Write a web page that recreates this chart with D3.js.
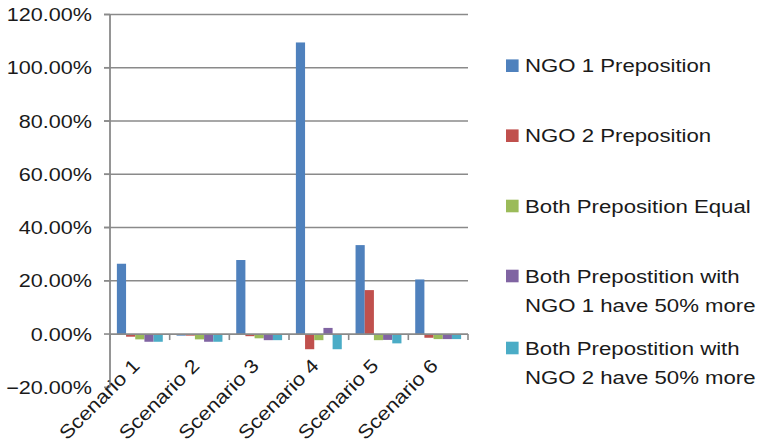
<!DOCTYPE html>
<html>
<head>
<meta charset="utf-8">
<script src="https://cdn.jsdelivr.net/npm/d3@7"></script>
<style>
  html, body { margin: 0; padding: 0; background: #fff; }
  svg { display: block; font-family: "Liberation Sans", Arial, Helvetica, sans-serif; }
</style>
</head>
<body>
<svg id="chart" width="762" height="444"></svg>
<script>
// Scenario categories
const categories = ["Scenario 1", "Scenario 2", "Scenario 3", "Scenario 4", "Scenario 5", "Scenario 6"];

// Series names and colours
const seriesNames = [
  "NGO 1 Preposition",
  "NGO 2 Preposition",
  "Both Preposition Equal",
  "Both Prepostition with NGO 1 have 50% more",
  "Both Prepostition with NGO 2 have 50% more"
];
const seriesColors = ["#4F81BD", "#C0504D", "#9BBB59", "#8064A2", "#4BACC6"];

// Values in percent, one entry per scenario
const ngo1Prep      = [26.4, -0.6, 27.8, 109.5, 33.4, 20.5];
const ngo2Prep      = [-1.0, -0.6, -0.8,  -5.7, 16.5, -1.4];
const bothEqual     = [-2.0, -2.0, -1.6,  -2.3, -2.3, -1.9];
const both50Ngo1    = [-2.9, -2.9, -2.3,   2.3, -2.2, -1.9];
const both50Ngo2    = [-2.9, -2.9, -2.3,  -5.7, -3.5, -1.9];

// Axis ticks
const yTicks = [-20, 0, 20, 40, 60, 80, 100, 120];

// Legend lines (wrapped text)
const legendLines = [
  ["NGO 1 Preposition"],
  ["NGO 2 Preposition"],
  ["Both Preposition Equal"],
  ["Both Prepostition with", "NGO 1 have 50% more"],
  ["Both Prepostition with", "NGO 2 have 50% more"]
];

const seriesValues = [ngo1Prep, ngo2Prep, bothEqual, both50Ngo1, both50Ngo2];

const svg = d3.select("#chart");
const plot = { left: 110, right: 468, top: 14.5, bottom: 387.3 };
const axisColor = "#8a8a8a";
const textColor = "#1a1a1a";
const stretch = 1.2;

const y = d3.scaleLinear().domain([-20, 120]).range([plot.bottom, plot.top]);
const x0 = d3.scaleBand().domain(categories).range([plot.left, plot.right]).padding(0);
const cw = x0.bandwidth();
const pad = cw * 0.75 / 6.5;
const x1 = d3.scaleBand().domain(d3.range(seriesNames.length)).range([pad, cw - pad]).padding(0);

// Horizontal gridlines
svg.append("g")
  .selectAll("line")
  .data(yTicks.filter(t => t !== 0 && t !== -20))
  .join("line")
  .attr("x1", plot.left - 6).attr("x2", plot.right)
  .attr("y1", d => y(d)).attr("y2", d => y(d))
  .attr("stroke", axisColor).attr("stroke-width", 1.6);

// Bars
const groups = svg.append("g")
  .selectAll("g")
  .data(categories)
  .join("g")
  .attr("transform", d => `translate(${x0(d)},0)`);

groups.selectAll("rect")
  .data((c, ci) => seriesValues.map((vals, si) => ({ si, v: vals[ci] })))
  .join("rect")
  .attr("x", d => x1(d.si))
  .attr("width", x1.bandwidth())
  .attr("y", d => Math.min(y(d.v), y(0)))
  .attr("height", d => Math.abs(y(d.v) - y(0)))
  .attr("fill", d => seriesColors[d.si]);

// Y axis line and ticks
svg.append("line")
  .attr("x1", plot.left).attr("x2", plot.left)
  .attr("y1", plot.top).attr("y2", plot.bottom)
  .attr("stroke", axisColor).attr("stroke-width", 1.8);

svg.append("g")
  .selectAll("line")
  .data(yTicks)
  .join("line")
  .attr("x1", plot.left - 6).attr("x2", plot.left)
  .attr("y1", d => y(d)).attr("y2", d => y(d))
  .attr("stroke", axisColor).attr("stroke-width", 1.6);

// Y tick labels
const fmt = d3.format(".2f");
svg.append("g")
  .selectAll("text")
  .data(yTicks)
  .join("text")
  .attr("transform", d => `translate(92,${y(d) + 6.5}) scale(${stretch},1)`)
  .attr("text-anchor", "end")
  .attr("font-size", 18)
  .attr("fill", textColor)
  .text(d => fmt(d) + "%");

// X axis line at zero with category ticks
svg.append("line")
  .attr("x1", plot.left).attr("x2", plot.right)
  .attr("y1", y(0)).attr("y2", y(0))
  .attr("stroke", axisColor).attr("stroke-width", 1.8);

svg.append("g")
  .selectAll("line")
  .data(categories.map(c => x0(c)).concat([plot.right]))
  .join("line")
  .attr("x1", d => d).attr("x2", d => d)
  .attr("y1", y(0)).attr("y2", y(0) + 6)
  .attr("stroke", axisColor).attr("stroke-width", 1.6);

// Rotated category labels
svg.append("g")
  .selectAll("text")
  .data(categories)
  .join("text")
  .attr("transform", d => `translate(${x0(d) + cw / 2 + 1},367) rotate(-45) scale(1.15,1)`)
  .attr("text-anchor", "end")
  .attr("font-size", 19)
  .attr("fill", textColor)
  .text(d => d);

// Legend
const legendRows = [65.7, 135.7, 206, 276, 348];
const legend = svg.append("g")
  .selectAll("g")
  .data(seriesNames)
  .join("g")
  .attr("transform", (d, i) => `translate(506,${legendRows[i]})`);

legend.append("rect")
  .attr("x", 0).attr("y", -6.3)
  .attr("width", 12.6).attr("height", 12.6)
  .attr("fill", (d, i) => seriesColors[i]);

legend.each(function (d, i) {
  const g = d3.select(this);
  legendLines[i].forEach((line, li) => {
    g.append("text")
      .attr("transform", `translate(19,${6.7 + li * 29}) scale(${stretch},1)`)
      .attr("font-size", 18.5)
      .attr("fill", textColor)
      .text(line);
  });
});
</script>
</body>
</html>
